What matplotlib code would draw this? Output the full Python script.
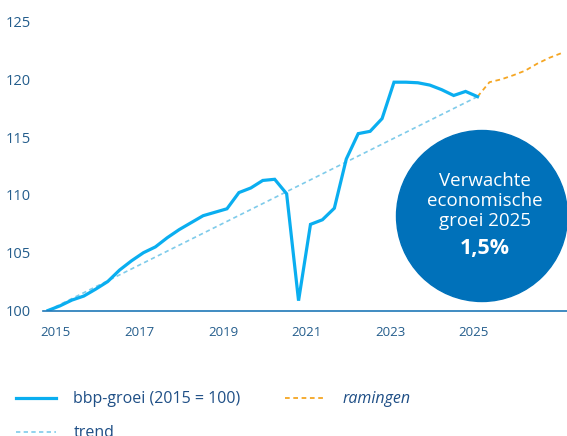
import numpy as np
import matplotlib
matplotlib.use('Agg')
import matplotlib.pyplot as plt
from matplotlib.patches import Circle

plt.rcParams['font.family'] = ['Open Sans', 'DejaVu Sans']

# quarterly index, 0 = 2015 Q1
bbp_q = list(range(37))
bbp = [100.0, 100.4, 100.9, 101.25, 101.85, 102.5, 103.5, 104.3, 105.0, 105.5,
       106.3, 107.0, 107.6, 108.2, 108.5, 108.8, 110.2, 110.6, 111.25, 111.35,
       110.1, 100.85, 107.45, 107.85, 108.85, 113.1, 115.3, 115.5, 116.6, 119.75,
       119.75, 119.7, 119.5, 119.1, 118.6, 118.95, 118.5]

raming_q = [36, 37, 38, 39, 40, 41, 42, 43]
raming = [118.5, 119.75, 120.0, 120.35, 120.75, 121.35, 121.85, 122.25]

trend_q = [0, 36]
trend = [100.0, 118.5]

year_labels = ['2015', '2017', '2019', '2021', '2023', '2025']
year_pos = [0.63, 7.63, 14.67, 21.67, 28.67, 35.67]
y_ticks = [100, 105, 110, 115, 120, 125]

c_bbp = '#0aaef0'
c_trend = '#7fcbea'
c_raming = '#f5a623'
c_axis = '#1f78b8'
c_text = '#245d8c'
c_legend = '#1f4f86'
c_circle = '#0071ba'

fig = plt.figure(figsize=(5.67, 4.36), dpi=100)
ax = fig.add_axes([43/567, 1 - 310.5/436, 1 - 43/567, (310.5 - 21.5)/436])

l_trend, = ax.plot(trend_q, trend, color=c_trend, lw=1.2, dashes=(2.6, 2.0), label='trend')
l_ram, = ax.plot(raming_q, raming, color=c_raming, lw=1.3, dashes=(2.6, 2.0), label='ramingen')
l_bbp, = ax.plot(bbp_q, bbp, color=c_bbp, lw=2.3, solid_joinstyle='miter', label='bbp-groei (2015 = 100)')

ax.set_xlim(-0.42, 43.5)
ax.set_ylim(100, 125)
ax.set_xticks(year_pos)
ax.set_xticklabels(year_labels)
ax.set_yticks(y_ticks)
ax.tick_params(axis='x', length=0, pad=11, labelsize=9.5, labelcolor=c_text)
ax.tick_params(axis='y', length=0, pad=9, labelsize=10.5, labelcolor=c_text)
for s in ['top', 'right', 'left']:
    ax.spines[s].set_visible(False)
ax.spines['bottom'].set_color(c_axis)
ax.spines['bottom'].set_linewidth(1.2)

# circle with expected growth
circ = Circle((4.82, 2.20), 0.855, transform=fig.dpi_scale_trans, color=c_circle, zorder=5)
fig.add_artist(circ)
fig.text(4.85, 2.35, 'Verwachte\neconomische\ngroei 2025', transform=fig.dpi_scale_trans,
         ha='center', va='center', color='white', fontsize=13.5, linespacing=1.12, zorder=6)
fig.text(4.85, 1.875, '1,5%', transform=fig.dpi_scale_trans, ha='center', va='center',
         color='white', fontsize=15.5, fontweight='bold', zorder=6)

leg = fig.legend(handles=[l_bbp, l_trend, l_ram], loc='upper left', bbox_to_anchor=(0.028, 0.103),
                 ncol=2, frameon=False, fontsize=11.5, handlelength=2.5, handletextpad=1.1,
                 columnspacing=2.8, labelspacing=1.15, borderpad=0, borderaxespad=0)
for t in leg.get_texts():
    t.set_color(c_legend)
leg.get_texts()[2].set_style('italic')

fig.savefig('out.png', dpi=100)
